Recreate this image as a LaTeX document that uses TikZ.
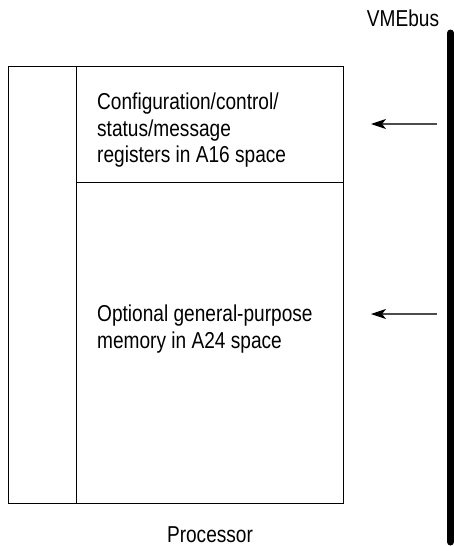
\documentclass[tikz,border=0pt]{standalone}
\usepackage{fontspec}
\setmainfont[FakeStretch=0.83]{Liberation Sans}
\usetikzlibrary{arrows.meta}

\begin{document}
\begin{tikzpicture}[x=1pt,y=-1pt,>={Stealth[length=15pt,width=10pt,inset=4pt,black]},
  box line/.style={draw,line width=1pt},
  region text/.style={anchor=north west,inner sep=0pt,align=left,
  font=\fontsize{23}{26.5}\selectfont},
  plain label/.style={inner sep=0pt,font=\fontsize{23}{26.5}\selectfont},
  bus arrow/.style={->,line width=1.2pt,draw=black!70}]

  \useasboundingbox (0,0) rectangle (454,546);

  % processor board, split into a side strip and two address regions
  \draw[box line] (8,66) rectangle (343,503);
  \draw[box line] (76,66) -- (76,503);
  \draw[box line] (76,182) -- (343,182);

  \node[region text] (regs) at (97,93)
    {Configuration/control/\\status/message\\registers in A16 space};
  \node[region text] (mem) at (97,305)
    {Optional general-purpose\\memory in A24 space};
  \node[plain label,anchor=base] (proc) at (210,542) {Processor};

  % the bus itself
  \draw[line width=7pt,line cap=round] (450.5,33) -- (450.5,542);
  \node[plain label,anchor=base] (bus) at (403,27) {VMEbus};

  % accesses coming in from the bus
  \coordinate (busA) at (437,124);
  \coordinate (regA) at (371,124);
  \coordinate (busB) at (437,314);
  \coordinate (memB) at (371,314);
  \draw[bus arrow] (busA) -- (regA);
  \draw[bus arrow] (busB) -- (memB);
\end{tikzpicture}
\end{document}
